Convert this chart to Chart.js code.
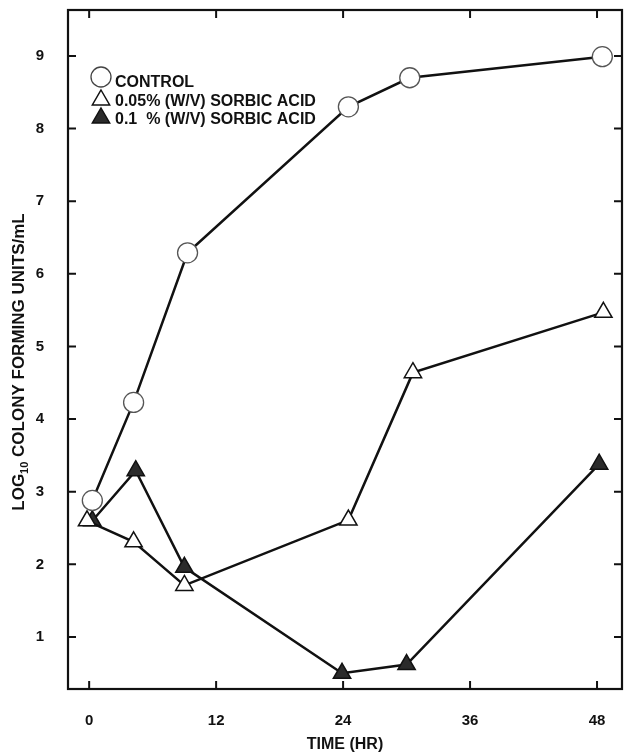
<!DOCTYPE html>
<html>
<head>
<meta charset="utf-8">
<script src="https://cdn.jsdelivr.net/npm/chart.js@4.4.1/dist/chart.umd.min.js"></script>
<style>
  html, body { margin: 0; padding: 0; background: #fff; }
  #wrap { width: 624px; height: 755px; }
</style>
</head>
<body>
<div id="wrap"><canvas id="chart" width="624" height="755"></canvas></div>
<script>
// values (hours, log10 CFU/mL)
const controlHours = [0.3, 4.2, 9.3, 24.5, 30.3, 48.5];
const controlLog   = [2.88, 4.23, 6.29, 8.30, 8.70, 8.99];

const sorbic005Hours = [-0.2, 4.2, 9.0, 24.5, 30.6, 48.6];
const sorbic005Log   = [2.60, 2.31, 1.71, 2.61, 4.64, 5.47];

const sorbic01Hours = [0.3, 4.4, 9.0, 23.9, 30.0, 48.2];
const sorbic01Log   = [2.60, 3.29, 1.96, 0.50, 0.62, 3.38];

const xTicks = [0, 12, 24, 36, 48];
const yTicks = [1, 2, 3, 4, 5, 6, 7, 8, 9];

const legendItems = ['CONTROL', '0.05% (W/V) SORBIC ACID', '0.1  % (W/V) SORBIC ACID'];

const FONT = '"Liberation Sans", Arial, Helvetica, sans-serif';

function toPoints(xs, ys) {
    return xs.map((x, i) => ({ x: x, y: ys[i] }));
}

// frame, inward ticks, y title with subscript and the legend box
const decorations = {
    id: 'decorations',
    afterDraw(chart) {
        const ctx = chart.ctx;
        const area = chart.chartArea;
        const xs = chart.scales.x;
        const ys = chart.scales.y;
        ctx.save();
        ctx.strokeStyle = '#111';
        ctx.lineWidth = 2.2;
        ctx.strokeRect(area.left, area.top, area.right - area.left, area.bottom - area.top);

        ctx.lineWidth = 2;
        ctx.beginPath();
        xTicks.forEach(v => {
            const px = xs.getPixelForValue(v);
            ctx.moveTo(px, area.bottom); ctx.lineTo(px, area.bottom - 8);
            ctx.moveTo(px, area.top); ctx.lineTo(px, area.top + 8);
        });
        yTicks.forEach(v => {
            const py = ys.getPixelForValue(v);
            ctx.moveTo(area.left, py); ctx.lineTo(area.left + 8, py);
            ctx.moveTo(area.right, py); ctx.lineTo(area.right - 8, py);
        });
        ctx.stroke();

        // y axis title
        ctx.fillStyle = '#111';
        ctx.textBaseline = 'alphabetic';
        const big = 'bold 17px ' + FONT;
        const small = 'bold 11px ' + FONT;
        const parts = [['LOG', big, 0], ['10', small, 4], [' COLONY FORMING UNITS/mL', big, 0]];
        let total = 0;
        parts.forEach(p => { ctx.font = p[1]; total += ctx.measureText(p[0]).width; });
        ctx.translate(24, 362);
        ctx.rotate(-Math.PI / 2);
        let cx = -total / 2;
        parts.forEach(p => {
            ctx.font = p[1];
            ctx.fillText(p[0], cx, p[2]);
            cx += ctx.measureText(p[0]).width;
        });
        ctx.setTransform(1, 0, 0, 1, 0, 0);

        // legend
        const lx = 101;
        const rows = [77, 100, 118];
        ctx.lineWidth = 1.3;
        ctx.strokeStyle = '#444';
        ctx.fillStyle = '#fff';
        ctx.beginPath();
        ctx.arc(lx, rows[0], 10, 0, Math.PI * 2);
        ctx.fill(); ctx.stroke();

        function tri(cy, fill) {
            const r = 10;
            ctx.beginPath();
            ctx.moveTo(lx, cy - r);
            ctx.lineTo(lx + r * 0.866, cy + r * 0.5);
            ctx.lineTo(lx - r * 0.866, cy + r * 0.5);
            ctx.closePath();
            ctx.fillStyle = fill;
            ctx.fill();
            ctx.strokeStyle = '#111';
            ctx.lineWidth = 1.5;
            ctx.stroke();
        }
        tri(rows[1], '#fff');
        tri(rows[2], '#2b2b2b');

        ctx.fillStyle = '#111';
        ctx.font = 'bold 16px ' + FONT;
        ctx.textBaseline = 'middle';
        ctx.fillText(legendItems[0], 115, 83);
        ctx.fillText(legendItems[1], 115, 102);
        ctx.fillText(legendItems[2], 115, 120);
        ctx.restore();
    }
};

const lineStyle = {
    borderColor: '#111',
    borderWidth: 2.5,
    pointRadius: 10,
    pointHoverRadius: 10,
    tension: 0,
    fill: false
};

new Chart(document.getElementById('chart'), {
    type: 'line',
    plugins: [decorations],
    data: {
        datasets: [
            Object.assign({}, lineStyle, {
                label: legendItems[0],
                data: toPoints(controlHours, controlLog),
                pointStyle: 'circle',
                pointBackgroundColor: '#fff',
                pointBorderColor: '#555',
                pointBorderWidth: 1.3
            }),
            Object.assign({}, lineStyle, {
                label: legendItems[1],
                data: toPoints(sorbic005Hours, sorbic005Log),
                pointStyle: 'triangle',
                pointBackgroundColor: '#fff',
                pointBorderColor: '#111',
                pointBorderWidth: 1.5
            }),
            Object.assign({}, lineStyle, {
                label: legendItems[2],
                data: toPoints(sorbic01Hours, sorbic01Log),
                pointStyle: 'triangle',
                pointBackgroundColor: '#2b2b2b',
                pointBorderColor: '#111',
                pointBorderWidth: 1.5
            })
        ]
    },
    options: {
        responsive: false,
        animation: false,
        events: [],
        layout: { autoPadding: false, padding: { top: 10, right: 2, left: 0, bottom: 0 } },
        plugins: {
            legend: { display: false },
            tooltip: { enabled: false }
        },
        scales: {
            x: {
                type: 'linear',
                min: -2,
                max: 50.36,
                afterBuildTicks: s => { s.ticks = xTicks.map(v => ({ value: v })); },
                afterFit: s => {
                    s.height = 66;
                    s.paddingLeft = 0; s.paddingRight = 0;
                },
                grid: { display: false, drawTicks: false },
                border: { display: false },
                ticks: {
                    padding: 23,
                    color: '#111',
                    font: { family: FONT, size: 15, weight: 'bold' }
                },
                title: {
                    display: true,
                    text: 'TIME (HR)',
                    color: '#111',
                    padding: { top: 0, bottom: 1 },
                    font: { family: FONT, size: 16, weight: 'bold' }
                }
            },
            y: {
                type: 'linear',
                min: 0.284,
                max: 9.633,
                afterBuildTicks: s => { s.ticks = yTicks.map(v => ({ value: v })); },
                afterFit: s => {
                    s.width = 68;
                    s.paddingTop = 0; s.paddingBottom = 0;
                },
                grid: { display: false, drawTicks: false },
                border: { display: false },
                ticks: {
                    padding: 24,
                    color: '#111',
                    font: { family: FONT, size: 15, weight: 'bold' }
                }
            }
        }
    }
});
</script>
</body>
</html>
